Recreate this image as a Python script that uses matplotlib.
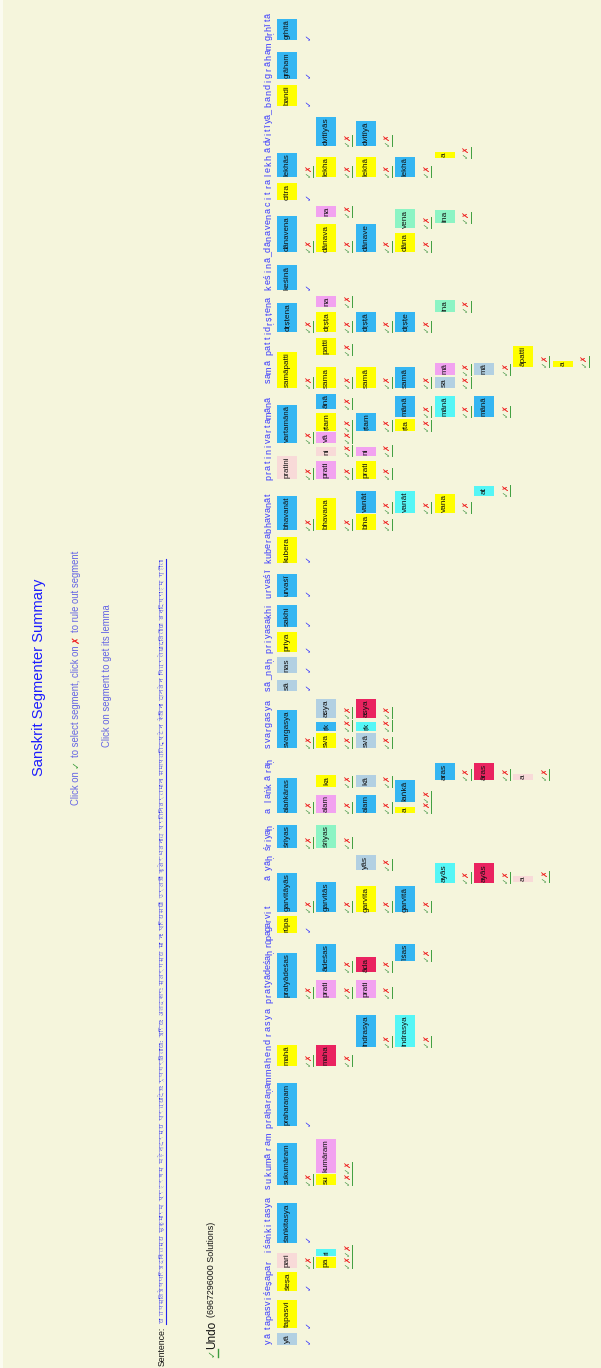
import matplotlib
matplotlib.use('Agg')
import matplotlib.pyplot as plt
from matplotlib import font_manager
from matplotlib.ft2font import FT2Font
from matplotlib.patches import Rectangle

# --- header: transliterated sentence, one chunk per word group (top, bottom along the sentence)
head_text = ['yā', 'tapasviśeṣapar', 'iśaṅkitasya', 'sukumāram', 'praharaṇam', 'mahendrasya',
             'pratyādeśaḥ', 'rūpagarvit', 'ā', 'yāḥ', 'śriyaḥ', 'a', 'laṅk', 'ā', 'raḥ',
             'svargasya', 'sā_naḥ', 'priyasakhi', 'urvaśī', 'kuberabhavanāt', 'pratinivartamānā',
             'sam', 'ā', 'pattidṛṣṭena', 'keśinā_dānavena', 'citralekh', 'ā', 'dvitīyā_',
             'bandigrāham', 'gṛhītā']
head_top = [1333, 1260, 1197, 1133, 1078, 1007, 950, 905, 875, 855, 826, 808, 783, 776, 760,
            700, 658, 603, 568, 492, 397, 368, 360, 297, 208, 155, 148, 110, 43, 13]
head_bot = [1345, 1330, 1253, 1190, 1128, 1075, 1003, 948, 880, 870, 850, 813, 803, 780, 772,
            748, 692, 653, 598, 563, 480, 383, 365, 355, 290, 207, 152, 145, 107, 40]

# --- segments, one set of lists per row of the summary
lab0 = ['yā', 'tapasvi', 'śeṣa', 'pari', 'śaṅkitasya', 'sukumāram', 'praharaṇam', 'mahā',
        'pratyādeśas', 'rūpa', 'garvitāyās', 'śriyas', 'alaṅkāras', 'svargasya', 'sā', 'nas',
        'priya', 'sakhi', 'urvaśī', 'kubera', 'bhavanāt', 'pratini', 'vartamānā', 'samāpatti',
        'dṛṣṭena', 'keśinā', 'dānavena', 'citra', 'lekhās', 'bandi', 'grāham', 'gṛhītā']
span0 = [(1333, 1345), (1300, 1328), (1272, 1291), (1253, 1268), (1203, 1243), (1143, 1185),
         (1083, 1126), (1045, 1066), (953, 998), (916, 933), (873, 912), (825, 848), (778, 813),
         (710, 748), (680, 691), (657, 673), (632, 652), (605, 627), (574, 597), (537, 563),
         (496, 530), (456, 479), (405, 443), (352, 388), (303, 332), (265, 290), (216, 252),
         (183, 200), (153, 177), (85, 106), (52, 79), (19, 40)]
kind0 = ['pron', 'iic', 'iic', 'inde', 'noun', 'noun', 'noun', 'iic', 'noun', 'iic', 'noun',
         'noun', 'noun', 'noun', 'pron', 'pron', 'iic', 'noun', 'noun', 'iic', 'noun', 'inde',
         'noun', 'iic', 'noun', 'noun', 'noun', 'iic', 'noun', 'iic', 'noun', 'noun']
fixed0 = [1, 1, 1, 0, 1, 0, 1, 0, 0, 1, 0, 0, 0, 0, 1, 1, 1, 1, 1, 1, 0, 0, 0, 0, 0, 1, 0, 1,
          0, 1, 1, 1]

lab1 = ['pa', 'ri', 'su', 'kumāram', 'maha', 'prati', 'ādeśas', 'garvitās', 'śriyas', 'alam',
        'ka', 'sva', 'ṛk', 'asya', 'bhavana', 'prati', 'ni', 'vā', 'ṛtam', 'ānā', 'sama',
        'patti', 'dṛṣṭa', 'na', 'dānava', 'na', 'lekha', 'dvitīyās']
span1 = [(1257, 1268), (1249, 1256), (1174, 1185), (1139, 1173), (1045, 1066), (980, 998),
         (944, 972), (882, 912), (825, 848), (795, 813), (775, 787), (733, 748), (722, 731),
         (699, 718), (498, 530), (461, 479), (447, 456), (432, 443), (413, 431), (394, 409),
         (367, 388), (338, 355), (312, 332), (296, 307), (224, 252), (206, 217), (157, 177),
         (117, 146)]
kind1 = ['iic', 'ifc', 'iic', 'pv', 'verb', 'pv', 'noun', 'noun', 'iiv', 'pv', 'iic', 'iic',
         'noun', 'pron', 'iic', 'pv', 'inde', 'pv', 'iic', 'noun', 'iic', 'iic', 'iic', 'pv',
         'iic', 'pv', 'iic', 'noun']

lab2 = ['indrasya', 'prati', 'āda', 'garvita', 'yās', 'alam', 'kā', 'svā', 'ṛk', 'asya', 'bha',
        'vanāt', 'prati', 'ni', 'ṛtam', 'samā', 'dṛṣṭā', 'dānave', 'lekhā', 'dvitīyā']
span2 = [(1015, 1047), (980, 998), (957, 972), (886, 912), (855, 870), (795, 813), (775, 787),
         (733, 748), (722, 731), (699, 718), (514, 530), (491, 513), (461, 479), (447, 456),
         (413, 431), (367, 388), (312, 332), (224, 252), (157, 177), (121, 146)]
kind2 = ['noun', 'pv', 'verb', 'iic', 'pron', 'noun', 'pron', 'pron', 'ifc', 'verb', 'iic',
         'noun', 'iic', 'pv', 'noun', 'iic', 'noun', 'noun', 'iic', 'noun']

lab3 = ['indrasya', 'īśas', 'garvitā', 'a', 'laṅkā', 'vanāt', 'ṛta', 'mānā', 'samā', 'dṛṣṭe',
        'dāna', 'vena', 'lekhā']
span3 = [(1015, 1047), (944, 961), (886, 912), (807, 813), (780, 802), (491, 513), (419, 431),
         (396, 417), (367, 388), (312, 332), (233, 252), (209, 228), (157, 177)]
kind3 = ['ifc', 'noun', 'noun', 'iic', 'noun', 'ifc', 'iic', 'noun', 'noun', 'noun', 'iic',
         'iiv', 'noun']

lab4 = ['ayās', 'aras', 'vana', 'mānā', 'sa', 'mā', 'ina', 'ina', 'a']
span4 = [(863, 883), (763, 780), (494, 513), (396, 417), (377, 388), (363, 375), (300, 312),
         (210, 223), (152, 158)]
kind4 = ['ifc', 'noun', 'iic', 'ifc', 'pron', 'pv', 'iiv', 'iiv', 'iic']

lab5 = ['ayās', 'āras', 'at', 'mānā', 'mā']
span5 = [(863, 883), (763, 780), (486, 496), (396, 417), (363, 375)]
kind5 = ['verb', 'verb', 'ifc', 'noun', 'pron']

lab6 = ['a', 'a', 'āpatti']
span6 = [(876, 882), (774, 780), (346, 367)]
kind6 = ['inde', 'inde', 'iic']

lab7 = ['a']
span7 = [(361, 367)]
kind7 = ['iic']

sentence = ('या तपस्विशेषपरिशङ्कितस्य सुकुमारम् प्रहरणम् महेन्द्रस्य प्रत्यादेशः रूपगर्विताया: '
            'श्रियः अलङ्कारः स्वर्गस्य सा नः प्रियसखी उर्वशी कुबेरभवनात् प्रतिनिवर्तमाना '
            'समापत्तिदृष्टेन केशिना दानवेन चित्रलेखाद्वितीया बन्दिग्राहम् गृहीता')
solutions = 6967296000

kind_colors = {'noun': '#35b6f2', 'iic': '#ffff00', 'pron': '#b2d0e2', 'pv': '#f2a2f0',
               'inde': '#f8dad8', 'verb': '#ea2360', 'ifc': '#55f6f6', 'iiv': '#8cf4c4'}

# fonts
names = {f.name for f in font_manager.fontManager.ttflist}
narrow = 'Liberation Sans Narrow' if 'Liberation Sans Narrow' in names else 'Liberation Sans'
deva = None
for f in font_manager.fontManager.ttflist:
    try:
        if 0x092F in FT2Font(f.fname).get_charmap():
            deva = f.name
            break
    except Exception:
        pass
deva_family = [deva, narrow] if deva else [narrow, 'DejaVu Sans']

fig = plt.figure(figsize=(6.01, 13.68), dpi=100, facecolor='#f5f5dc')
ax = fig.add_axes([0, 0, 1, 1])
ax.set_xlim(0, 601)
ax.set_ylim(1368, 0)
ax.axis('off')
ax.add_patch(Rectangle((0, 0), 3, 1368, facecolor='#fbfbf0', edgecolor='none'))

to_shrink = []


def draw_row(r, labels, spans, kinds, fixed=None):
    x0 = 277 + 39.4 * r
    mx = x0 + 31
    for i, (lab, (top, bot), kind) in enumerate(zip(labels, spans, kinds)):
        ax.add_patch(Rectangle((x0, top), 20, bot - top, facecolor=kind_colors[kind],
                               edgecolor='none'))
        t = ax.text(x0 + 10, (top + bot) / 2, lab, rotation=90, ha='center', va='center',
                    fontsize=6, family=narrow, color='#111111')
        to_shrink.append((t, bot - top - 1))
        if fixed is not None and fixed[i]:
            ax.text(mx, bot - 4, '✓', rotation=90, ha='center', va='center', fontsize=6,
                    color='#3030ff', family='DejaVu Sans')
        else:
            ax.text(mx, bot - 3, '✓', rotation=90, ha='center', va='center', fontsize=5.5,
                    color='#4d9a4d', family='DejaVu Sans')
            ax.text(mx, bot - 8.5, '✗', rotation=90, ha='center', va='center', fontsize=6,
                    color='#ee1c1c', family='DejaVu Sans')
            ax.plot([mx + 5, mx + 5], [bot - 11.5, bot - 0.5], color='#3f9f3f', lw=0.7)


draw_row(0, lab0, span0, kind0, fixed0)
draw_row(1, lab1, span1, kind1)
draw_row(2, lab2, span2, kind2)
draw_row(3, lab3, span3, kind3)
draw_row(4, lab4, span4, kind4)
draw_row(5, lab5, span5, kind5)
draw_row(6, lab6, span6, kind6)
draw_row(7, lab7, span7, kind7)

# header letters, spread over each chunk
for txt, top, bot in zip(head_text, head_top, head_bot):
    step = (bot - top) / len(txt)
    for i, ch in enumerate(txt):
        ax.text(271, bot - (i + 0.5) * step, ch, rotation=90, rotation_mode='anchor',
                ha='center', va='baseline', fontsize=6.5, color='#3838ff', family=narrow)

# title and help lines
title = ax.text(39, 677, 'Sanskrit Segmenter Summary', rotation=90, ha='center', va='center',
                fontsize=14, color='#1c1cff', family=narrow)
help2 = ax.text(107, 676, 'Click on segment to get its lemma', rotation=90, ha='center',
                va='center', fontsize=7.5, color='#6464e4', family=narrow)

pieces = [('Click on', '#6464e4'), ('✓', '#3c9c3c'), ('to select segment, click on', '#6464e4'),
          ('✗', '#ee1c1c'), ('to rule out segment', '#6464e4')]
help1 = []
prev = None
for s, c in pieces:
    fam = 'DejaVu Sans' if s in '✓✗' else narrow
    if prev is None:
        t = ax.text(76, 805, s, rotation=90, ha='center', va='bottom', fontsize=7.5,
                    color=c, family=fam)
    else:
        t = ax.annotate(s, xy=(0.5, 1), xycoords=prev, xytext=(0, 3),
                        textcoords='offset pixels', rotation=90, ha='center', va='bottom',
                        fontsize=7.5, color=c, family=fam)
    help1.append(t)
    prev = t

# sentence line
sent_lab = ax.text(162, 1366, 'Sentence:', rotation=90, ha='center', va='bottom', fontsize=8,
                   color='#111111', family=narrow)
sent = ax.annotate(sentence, xy=(0.5, 1), xycoords=sent_lab, xytext=(0, 3),
                   textcoords='offset pixels', rotation=90, ha='center', va='bottom',
                   fontsize=8, color='#2222ee', family=deva_family)

# undo line
undo_mark = ax.text(212, 1357, '✓', rotation=90, ha='center', va='bottom', fontsize=7,
                    color='#3c9c3c', family='DejaVu Sans')
undo = ax.annotate('Undo', xy=(0.5, 1), xycoords=undo_mark, xytext=(0, 0),
                   textcoords='offset pixels', rotation=90, ha='center', va='bottom',
                   fontsize=8.5, color='#111111', family=narrow)
sol = ax.text(212, 1317, '(%d Solutions)' % solutions, rotation=90, ha='center', va='bottom',
              fontsize=8.5, color='#111111', family=narrow)

# fit lengths to the page
fig.canvas.draw()
rend = fig.canvas.get_renderer()


def fit(t, length):
    h = t.get_window_extent(rend).height
    t.set_fontsize(t.get_fontsize() * length / h)


fit(title, 199)
fit(help2, 143)
fit(sent_lab, 40)
fit(sol, 95)
for t, avail in to_shrink:
    h = t.get_window_extent(rend).height
    if h > avail:
        t.set_fontsize(t.get_fontsize() * avail / h)
fig.canvas.draw()
fit(sent, 1325 - 557)
span = help1[-1].get_window_extent(rend).y1 - help1[0].get_window_extent(rend).y0
for t in help1:
    t.set_fontsize(t.get_fontsize() * 255 / span)
fig.canvas.draw()

# underline the sentence link
bb = sent.get_window_extent(rend)
inv = ax.transData.inverted()
(xa, ya), (xb, yb) = inv.transform([(bb.x1, bb.y0), (bb.x1, bb.y1)])
ax.plot([xa + 1, xa + 1], [ya, yb], color='#2222ee', lw=0.8)
bb = undo_mark.get_window_extent(rend)
(xa, ya), (xb, yb) = inv.transform([(bb.x1, bb.y0), (bb.x1, bb.y1)])
ax.plot([xa + 1, xa + 1], [ya, yb], color='#3c9c3c', lw=1)

fig.savefig('out.png', dpi=100, facecolor=fig.get_facecolor())
